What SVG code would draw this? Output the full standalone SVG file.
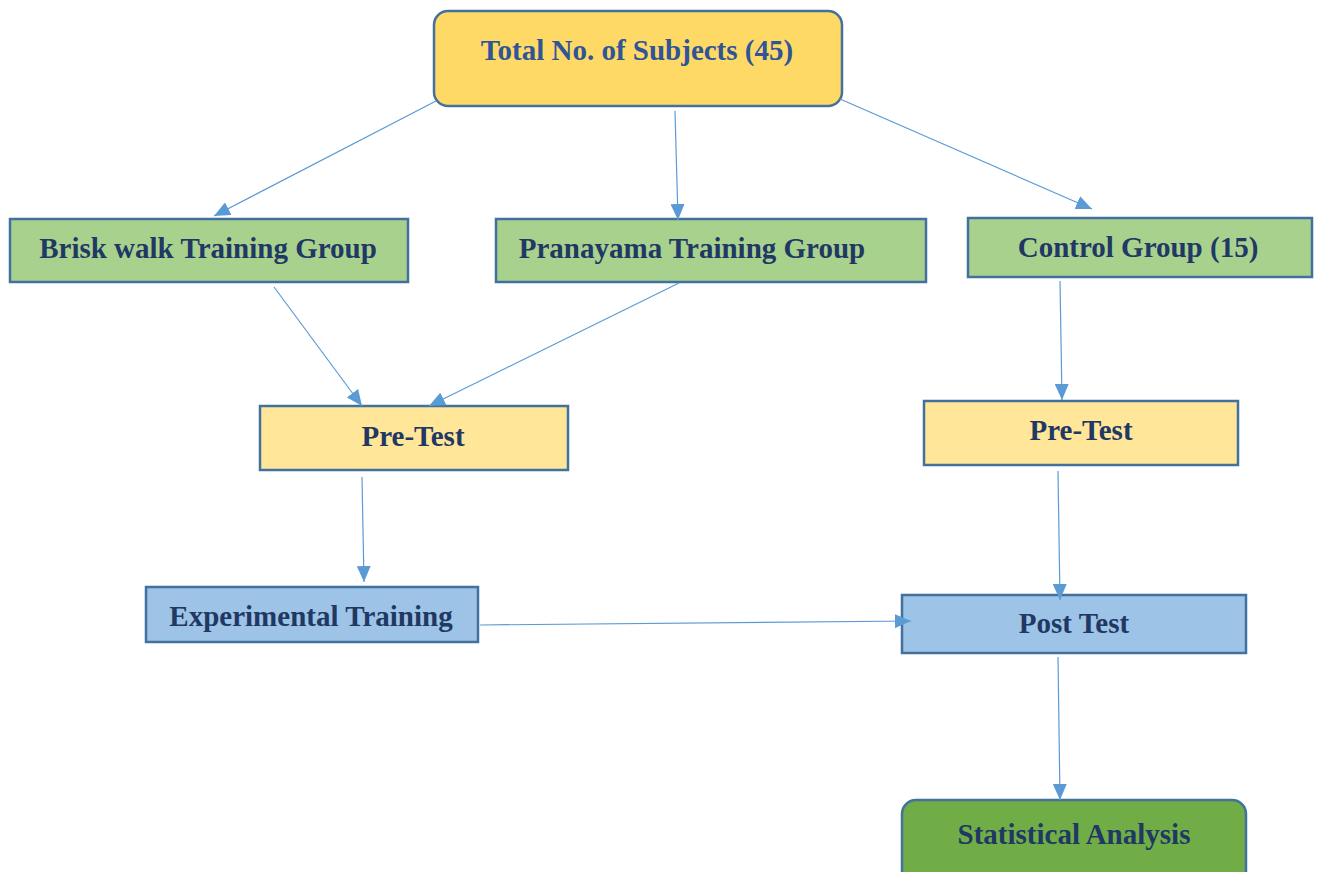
<svg xmlns="http://www.w3.org/2000/svg" width="1317" height="872" viewBox="0 0 1317 872">
<defs>
<marker id="ah" markerWidth="16" markerHeight="14" refX="16" refY="7" orient="auto" markerUnits="userSpaceOnUse" viewBox="0 0 16 14">
<path d="M0,0 L16,7 L0,14 z" fill="#5B9BD5"/>
</marker>
<style>
.box{stroke:#41719C;stroke-width:2.5}
.t{font-family:"Liberation Serif","Times New Roman",serif;font-weight:bold;font-size:29px;fill:#1F3864;text-anchor:middle}
.c{stroke:#5B9BD5;stroke-width:1.2;fill:none;marker-end:url(#ah)}
</style>
</defs>
<rect width="1317" height="872" fill="#ffffff"/>
<g id="total">
<rect class="box" x="434" y="11" width="408" height="95" rx="14" fill="#FFD966"/>
<text class="t" x="637" y="60" style="fill:#2F5597">Total No. of Subjects (45)</text>
</g>
<g id="brisk">
<rect class="box" x="10" y="219" width="398" height="63" fill="#A9D18E"/>
<text class="t" x="208" y="258">Brisk walk Training Group</text>
</g>
<g id="pranayama">
<rect class="box" x="496" y="219" width="430" height="63" fill="#A9D18E"/>
<text class="t" x="692" y="258">Pranayama Training Group</text>
</g>
<g id="control">
<rect class="box" x="968" y="218" width="344" height="59" fill="#A9D18E"/>
<text class="t" x="1138" y="257">Control Group (15)</text>
</g>
<g id="pretest1">
<rect class="box" x="260" y="406" width="308" height="64" fill="#FFE699"/>
<text class="t" x="413" y="446">Pre-Test</text>
</g>
<g id="pretest2">
<rect class="box" x="924" y="401" width="314" height="64" fill="#FFE699"/>
<text class="t" x="1081" y="440">Pre-Test</text>
</g>
<g id="experimental">
<rect class="box" x="146" y="587" width="332" height="55" fill="#9DC3E6"/>
<text class="t" x="311" y="626">Experimental Training</text>
</g>
<g id="posttest">
<rect class="box" x="902" y="595" width="344" height="58" fill="#9DC3E6"/>
<text class="t" x="1074" y="633">Post Test</text>
</g>
<g id="statistical">
<rect class="box" x="902" y="800" width="344" height="90" rx="14" fill="#70AD47"/>
<text class="t" x="1074" y="844">Statistical Analysis</text>
</g>
<g id="connectors">
<line class="c" x1="436" y1="101" x2="214" y2="216"/>
<line class="c" x1="675" y1="111" x2="678" y2="220"/>
<line class="c" x1="840" y1="99" x2="1092" y2="209"/>
<line class="c" x1="274" y1="287" x2="362" y2="406"/>
<line class="c" x1="679" y1="283" x2="429" y2="406"/>
<line class="c" x1="1060" y1="281" x2="1062" y2="400"/>
<line class="c" x1="362" y1="477" x2="364" y2="582"/>
<line class="c" x1="480" y1="625" x2="911" y2="621"/>
<line class="c" x1="1058" y1="471" x2="1060" y2="600"/>
<line class="c" x1="1058" y1="657" x2="1060" y2="800"/>
</g>
</svg>
